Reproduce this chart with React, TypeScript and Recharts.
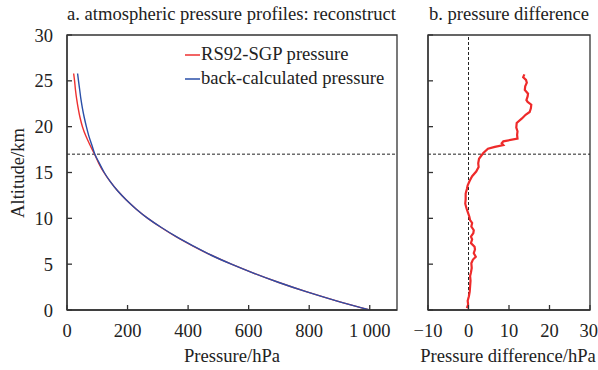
import {
  LineChart,
  Line,
  XAxis,
  YAxis,
  ReferenceLine,
  ReferenceArea,
} from "recharts";

// ── Data ──────────────────────────────────────────────────────────────────────
const altitudes = [0, 1, 2, 3, 4, 5, 6, 7, 8, 9, 10, 11, 12, 13, 14, 15, 16, 17, 18, 19, 20, 21, 22, 23, 24, 25, 25.8];
const rs92Pressure = [1000, 890, 790, 700, 618, 543, 475, 415, 360, 311, 267, 229, 196, 167, 143, 122, 105, 91, 76, 62, 51, 43, 37, 32, 28, 25, 22];
const backCalcPressure = [1000, 890, 790, 700, 618, 543, 475, 416, 361, 312, 267, 229, 196, 167, 143, 123, 107, 92, 82, 72, 64, 57, 51, 46, 42, 38, 35];

const diffAltitudes = [
  0.2, 0.6, 1.0, 1.5, 2.0, 2.6, 3.2, 3.7, 4.1, 4.6, 5.1, 5.5, 5.8, 6.2, 6.6, 6.9, 7.3, 7.7, 8.0, 8.4,
  8.7, 9.1, 9.5, 9.8, 10.2, 10.7, 11.1, 11.6, 12.1, 12.7, 13.2, 13.6, 14.1, 14.6, 15.1, 15.6, 16.0, 16.5,
  17.1, 17.6, 17.8, 18.0, 18.2, 18.4, 18.7, 19.1, 19.5, 19.9, 20.4, 20.9, 21.3, 21.6, 22.0, 22.4, 22.7,
  22.9, 23.3, 23.6, 24.0, 24.4, 24.8, 25.1, 25.4, 25.7,
];
const pressureDiff = [
  -0.4, -0.1, -0.2, 0.1, 0.3, 0.4, 0.5, 0.4, 0.6, 0.8, 0.7, 1.1, 1.8, 1.3, 1.6, 1.5, 0.6, 0.9, 0.6, 1.2,
  1.3, 0.7, 0.9, 0.4, 0.2, -0.2, -0.5, -0.8, -0.7, -0.7, -0.4, -0.2, 0.3, 0.9, 1.9, 2.5, 2.4, 2.6,
  3.6, 4.8, 6.5, 8.6, 8.2, 8.6, 12.1, 12.0, 12.1, 11.8, 11.9, 13.2, 14.1, 15.1, 15.4, 15.5, 14.6,
  14.3, 14.6, 14.7, 13.9, 14.0, 14.4, 14.2, 13.5, 13.8,
];

const pressureTicks = [0, 200, 400, 600, 800, 1000];
const altitudeTicks = [0, 5, 10, 15, 20, 25, 30];
const diffTicks = [-10, 0, 10, 20, 30];

const profileData = altitudes.map((alt, i) => ({
  alt,
  rs92: rs92Pressure[i],
  back: backCalcPressure[i],
}));
const diffData = diffAltitudes.map((alt, i) => ({ alt, diff: pressureDiff[i] }));

// ── Styles ────────────────────────────────────────────────────────────────────
const FONT = "Liberation Serif";
const AXIS = "#333";
const tickStyle = { fontFamily: FONT, fontSize: 18.5, fill: "#222" };

const fmtPressure = (v: number) => (v === 1000 ? "1 000" : String(v));
const fmtMinus = (v: number) => (v < 0 ? `\u2212${Math.abs(v)}` : String(v));

export default function App() {
  return (
    <div
      style={{
        position: "absolute",
        left: 0,
        top: 0,
        width: 598,
        height: 370,
        background: "#fff",
        fontFamily: FONT,
      }}
    >
      {/* ── a. pressure profiles ── */}
      <div style={{ position: "absolute", left: 0, top: 0 }}>
        <LineChart
          width={400}
          height={370}
          layout="vertical"
          data={profileData}
          margin={{ top: 35, right: 3, bottom: 30, left: 17 }}
        >
          <XAxis
            type="number"
            domain={[0, 1090]}
            ticks={pressureTicks}
            tickFormatter={fmtPressure}
            height={30}
            tickSize={-5}
            tickMargin={19}
            tick={tickStyle}
            stroke={AXIS}
            strokeWidth={1.3}
            allowDataOverflow
          />
          <YAxis
            type="number"
            dataKey="alt"
            domain={[0, 30]}
            ticks={altitudeTicks}
            reversed
            width={50}
            tickSize={-5}
            tickMargin={19}
            tick={tickStyle}
            stroke={AXIS}
            strokeWidth={1.3}
          />
          <ReferenceArea x1={0} x2={1090} y1={0} y2={30} fill="none" stroke={AXIS} strokeWidth={1.3} />
          <ReferenceLine y={17} stroke="#222" strokeDasharray="3 2" strokeWidth={1} />
          <Line
            dataKey="rs92"
            type="monotone"
            stroke="#ee3030"
            strokeWidth={1.4}
            dot={false}
            isAnimationActive={false}
          />
          <Line
            dataKey="back"
            type="monotone"
            stroke="#2a4fa8"
            strokeWidth={1.4}
            dot={false}
            isAnimationActive={false}
          />
        </LineChart>
      </div>

      {/* ── b. pressure difference ── */}
      <div style={{ position: "absolute", left: 400, top: 0 }}>
        <LineChart
          width={198}
          height={370}
          layout="vertical"
          data={diffData}
          margin={{ top: 35, right: 8, bottom: 30, left: 8 }}
        >
          <XAxis
            type="number"
            domain={[-10, 30]}
            ticks={diffTicks}
            tickFormatter={fmtMinus}
            height={30}
            tickSize={-5}
            tickMargin={19}
            tick={tickStyle}
            stroke={AXIS}
            strokeWidth={1.3}
          />
          <YAxis
            type="number"
            dataKey="alt"
            domain={[0, 30]}
            ticks={altitudeTicks}
            reversed
            width={20}
            tickSize={-5}
            tickFormatter={() => ""}
            stroke={AXIS}
            strokeWidth={1.3}
          />
          <ReferenceArea x1={-10} x2={30} y1={0} y2={30} fill="none" stroke={AXIS} strokeWidth={1.3} />
          <ReferenceLine y={17} stroke="#222" strokeDasharray="3 2" strokeWidth={1} />
          <ReferenceLine x={0} stroke="#222" strokeDasharray="3 2" strokeWidth={1} />
          <Line
            dataKey="diff"
            type="linear"
            stroke="#ee2a2a"
            strokeWidth={2.2}
            dot={false}
            isAnimationActive={false}
          />
        </LineChart>
      </div>

      {/* ── titles, legend, axis titles ── */}
      <svg
        width={598}
        height={370}
        style={{ position: "absolute", left: 0, top: 0, pointerEvents: "none" }}
      >
        <g fontFamily={FONT} fontSize={18.6} fill="#222">
          <text x={67} y={20}>a. atmospheric pressure profiles: reconstruct</text>
          <text x={509} y={20} textAnchor="middle">b. pressure difference</text>
          <text x={232} y={362} textAnchor="middle">Pressure/hPa</text>
          <text x={508} y={362} textAnchor="middle">Pressure difference/hPa</text>
          <text x={24} y={173} textAnchor="middle" transform="rotate(-90 24 173)">
            Altitude/km
          </text>
          <line x1={185} x2={200} y1={55} y2={55} stroke="#ee3030" strokeWidth={1.5} />
          <text x={201} y={60}>RS92-SGP pressure</text>
          <line x1={185} x2={200} y1={79} y2={79} stroke="#2a4fa8" strokeWidth={1.5} />
          <text x={201} y={84}>back-calculated pressure</text>
        </g>
      </svg>
    </div>
  );
}
